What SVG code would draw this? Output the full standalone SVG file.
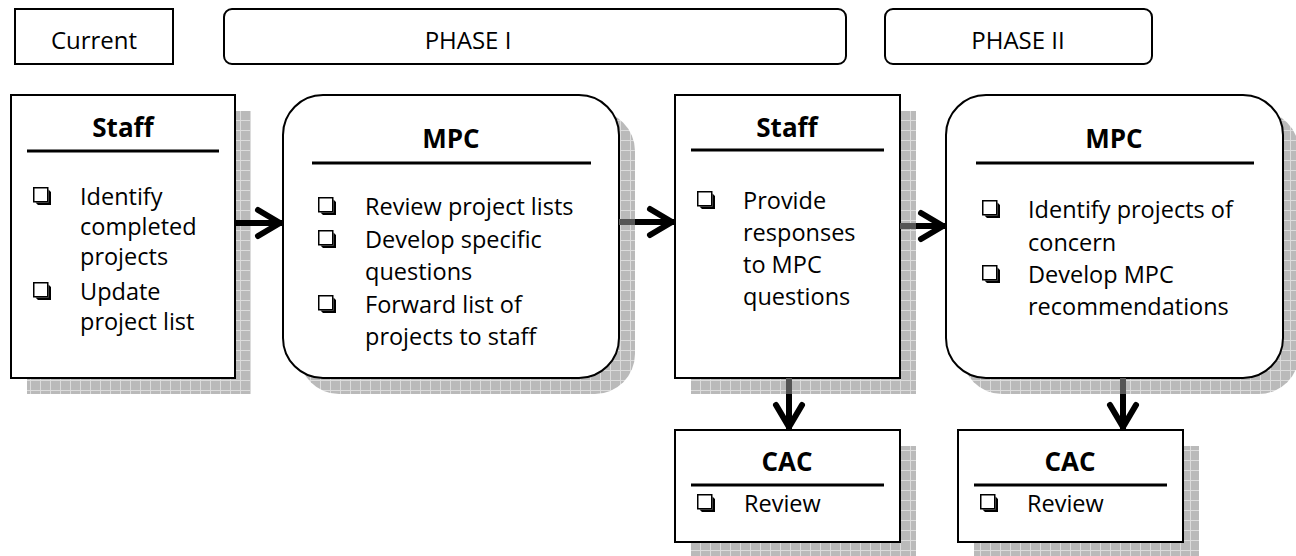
<svg xmlns="http://www.w3.org/2000/svg" xmlns:xlink="http://www.w3.org/1999/xlink" width="1296" height="556" viewBox="0 0 1296 556">
<style>
text{font-family:"Open Sans","Liberation Sans",sans-serif;fill:#000}
.t{font-size:23.5px}
.h{font-size:26px;font-weight:bold;text-anchor:middle}
.hd{font-size:24px;text-anchor:middle}
.box{fill:#fff;stroke:#000;stroke-width:2}
.shadow{fill:url(#grid)}
.rule{stroke:#000;stroke-width:3}
.conn{fill:none;stroke:#000;stroke-width:6}
.conn .dim{stroke:#555}
</style>
<defs>
<pattern id="grid" width="10" height="10" patternUnits="userSpaceOnUse">
<rect width="10" height="10" fill="#bababa"/>
<path d="M0,0.5H10M0.5,0V10" stroke="#dcdcdc" stroke-width="1"/>
</pattern>
<marker id="arr" markerUnits="userSpaceOnUse" markerWidth="34" markerHeight="34" refX="30" refY="16" orient="auto" overflow="visible">
<path d="M5,3 L27,16 L5,29" fill="none" stroke="#000" stroke-width="6" stroke-linecap="round" stroke-linejoin="round"/>
</marker>
<g id="cb">
<rect x="0.75" y="0.75" width="14" height="14" fill="#fff" stroke="#000" stroke-width="1.5"/>
<polygon points="15.5,2.5 18,5 18,18 5,18 2.5,15.5 15.5,15.5" fill="#000"/>
</g>
</defs>

<g id="header-current">
<rect class="box" x="15" y="9" width="158" height="55"/>
<text class="hd" x="94" y="49">Current</text>
</g>
<g id="header-phase1">
<rect class="box" x="224" y="9" width="622" height="55" rx="8"/>
<text class="hd" x="468" y="49">PHASE I</text>
</g>
<g id="header-phase2">
<rect class="box" x="885" y="9" width="267" height="55" rx="8"/>
<text class="hd" x="1018" y="49">PHASE II</text>
</g>

<g id="staff1">
<rect class="shadow" x="27" y="111" width="224" height="283"/>
<rect class="box" x="11" y="95" width="224" height="283"/>
<text class="h" x="123" y="137">Staff</text>
<line class="rule" x1="27" y1="151" x2="219" y2="151"/>
<use xlink:href="#cb" x="33" y="187"/>
<text class="t" x="80" y="205">Identify</text>
<text class="t" x="80" y="235">completed</text>
<text class="t" x="80" y="265">projects</text>
<use xlink:href="#cb" x="33" y="282"/>
<text class="t" x="80" y="300">Update</text>
<text class="t" x="80" y="330">project list</text>
</g>

<g id="mpc1">
<rect class="shadow" x="299" y="111" width="336" height="283" rx="40"/>
<rect class="box" x="283" y="95" width="336" height="283" rx="40"/>
<text class="h" x="451" y="148">MPC</text>
<line class="rule" x1="312" y1="163" x2="591" y2="163"/>
<use xlink:href="#cb" x="318" y="197"/>
<text class="t" x="365" y="215">Review project lists</text>
<use xlink:href="#cb" x="318" y="230"/>
<text class="t" x="365" y="248">Develop specific</text>
<text class="t" x="365" y="280">questions</text>
<use xlink:href="#cb" x="318" y="295"/>
<text class="t" x="365" y="313">Forward list of</text>
<text class="t" x="365" y="345">projects to staff</text>
</g>

<g id="staff2">
<rect class="shadow" x="691" y="111" width="225" height="283"/>
<rect class="box" x="675" y="95" width="225" height="283"/>
<text class="h" x="787" y="137">Staff</text>
<line class="rule" x1="691" y1="150" x2="884" y2="150"/>
<use xlink:href="#cb" x="697" y="191"/>
<text class="t" x="743" y="209">Provide</text>
<text class="t" x="743" y="241">responses</text>
<text class="t" x="743" y="273">to MPC</text>
<text class="t" x="743" y="305">questions</text>
</g>

<g id="mpc2">
<rect class="shadow" x="962" y="111" width="337" height="283" rx="40"/>
<rect class="box" x="946" y="95" width="337" height="283" rx="40"/>
<text class="h" x="1114" y="148">MPC</text>
<line class="rule" x1="976" y1="163" x2="1254" y2="163"/>
<use xlink:href="#cb" x="982" y="200"/>
<text class="t" x="1028" y="218">Identify projects of</text>
<text class="t" x="1028" y="251">concern</text>
<use xlink:href="#cb" x="982" y="265"/>
<text class="t" x="1028" y="283">Develop MPC</text>
<text class="t" x="1028" y="315">recommendations</text>
</g>

<g id="cac1">
<rect class="shadow" x="691" y="446" width="225" height="112"/>
<rect class="box" x="675" y="430" width="225" height="112"/>
<text class="h" x="787" y="471">CAC</text>
<line class="rule" x1="691" y1="485" x2="884" y2="485"/>
<use xlink:href="#cb" x="697" y="494"/>
<text class="t" x="744" y="512">Review</text>
</g>

<g id="cac2">
<rect class="shadow" x="974" y="446" width="225" height="112"/>
<rect class="box" x="958" y="430" width="225" height="112"/>
<text class="h" x="1070" y="471">CAC</text>
<line class="rule" x1="974" y1="485" x2="1167" y2="485"/>
<use xlink:href="#cb" x="980" y="494"/>
<text class="t" x="1027" y="512">Review</text>
</g>

<g id="connectors" class="conn">
<g id="c-staff1-mpc1">
<path d="M235,223 H283" marker-end="url(#arr)"/>
</g>
<g id="c-mpc1-staff2">
<path class="dim" d="M619,222 H635"/>
<path d="M635,222 H675" marker-end="url(#arr)"/>
</g>
<g id="c-staff2-mpc2">
<path class="dim" d="M900,226 H916"/>
<path d="M916,226 H946" marker-end="url(#arr)"/>
</g>
<g id="c-staff2-cac1">
<path class="dim" d="M789,378 V394"/>
<path d="M789,394 V430" marker-end="url(#arr)"/>
</g>
<g id="c-mpc2-cac2">
<path class="dim" d="M1123,378 V394"/>
<path d="M1123,394 V430" marker-end="url(#arr)"/>
</g>
</g>
</svg>
